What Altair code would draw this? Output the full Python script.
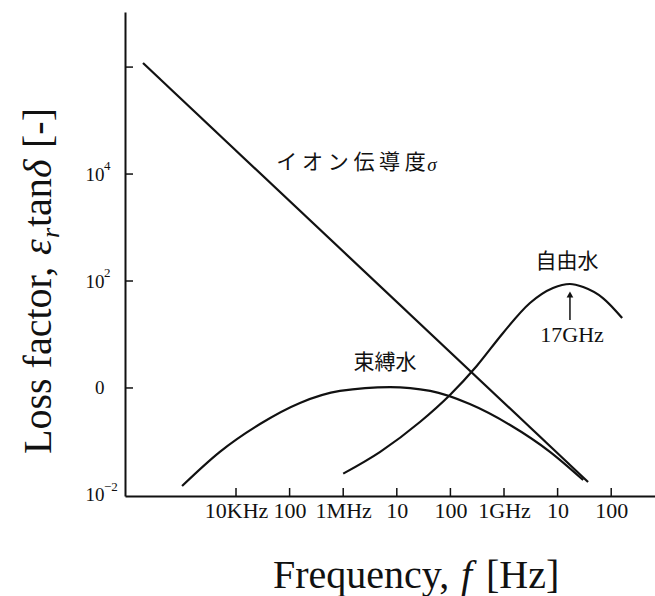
import json
import altair as alt
import pandas as pd

# Loss factor (eps_r * tan delta) versus frequency (Hz) for three loss mechanisms
ion_freq = [184, 3.7e10]
ion_loss = [1.19e6, 0.0175]

bound_freq = [985, 5.0e3, 2.8e4, 1.56e5, 8.7e5, 7.5e6, 4.2e7, 2.3e8, 1.3e9, 7.2e9, 3.0e10]
bound_loss = [0.0147, 0.064, 0.212, 0.525, 0.88, 1.04, 0.88, 0.50, 0.203, 0.064, 0.019]

free_freq = [1.0e6, 4.9e6, 2.7e7, 9.8e7, 3.1e8, 9.6e8, 3.05e9, 8.2e9, 1.7e10, 3.0e10, 7.0e10, 1.6e11]
free_loss = [0.025, 0.064, 0.231, 0.74, 2.58, 10.7, 38.8, 74, 88, 77, 48, 20.3]

# Axis ticks and their labels
x_tick_values = [1e4, 1e5, 1e6, 1e7, 1e8, 1e9, 1e10, 1e11]
x_tick_labels = ["10KHz", "100", "1MHz", "10", "100", "1GHz", "10", "100"]
y_tick_values = [1e6, 1e4, 1e2, 1]
y_label_values = [0.01, 1, 100, 1e4]
y_label_bases = ["10", "0", "10", "10"]
y_exp_values = [0.01, 100, 1e4]
y_exp_text = ["−2", "2", "4"]

# Curve annotations
label_text = ["イ オ ン 伝 導 度", "束縛水", "自由水", "17GHz"]
label_freq = [1.4e6, 6.0e6, 1.5e10, 1.86e10]
label_loss = [1.6e4, 2.93, 226, 9.8]
sigma_freq = [4.5e7]
sigma_loss = [1.48e4]
peak_freq = [1.7e10]
arrow_from = [18.6]
arrow_to = [56]

W, H = 530, 484
SERIF = "Liberation Serif"
CJK = "Noto Sans CJK JP"
INK = "#111111"

xscale = alt.Scale(type="log", domain=[10 ** 1.929, 10 ** 11.817], nice=False)
yscale = alt.Scale(type="log", domain=[10 ** -2.02, 10 ** 7.03], nice=False)

x_lab = json.dumps(x_tick_labels, ensure_ascii=False)
y_lab = json.dumps(y_label_bases, ensure_ascii=False)

# One axis definition per channel, reused by every layer so they merge cleanly
xaxis = alt.Axis(
    values=x_tick_values, labelExpr=f"{x_lab}[round(log(datum.value)/LN10)-4]",
    title=None, ticks=False, tickSize=0, grid=False, labelFont=SERIF,
    labelFontSize=22, labelColor=INK, labelPadding=4, labelOverlap=False,
    labelFlush=False, domainColor=INK, domainWidth=2)
yaxis = alt.Axis(
    values=y_label_values, labelExpr=f"{y_lab}[round(log(datum.value)/LN10/2)+1]",
    title=None, ticks=False, tickSize=0, grid=False, labelFont=SERIF,
    labelFontSize=19, labelColor=INK, labelPadding=21, labelOverlap=False,
    labelFlush=False, domainColor=INK, domainWidth=2)


def X(field):
    return alt.X(field, scale=xscale, axis=xaxis)


def Y(field):
    return alt.Y(field, scale=yscale, axis=yaxis)


curves = pd.concat([
    pd.DataFrame({"series": "ion", "f": ion_freq, "v": ion_loss}),
    pd.DataFrame({"series": "bound", "f": bound_freq, "v": bound_loss}),
    pd.DataFrame({"series": "free", "f": free_freq, "v": free_loss}),
], ignore_index=True)
curves["order"] = curves.groupby("series").cumcount()

lines = alt.Chart(curves).mark_line(
    color=INK, strokeWidth=2.2, interpolate="monotone"
).encode(x=X("f:Q"), y=Y("v:Q"), detail="series:N", order="order:Q")

# Inward-pointing tick marks
xticks = alt.Chart(pd.DataFrame({"f": x_tick_values})).mark_rule(
    color=INK, strokeWidth=1.5
).encode(x=X("f:Q"), y=alt.value(H), y2=alt.value(H - 8))

yticks = alt.Chart(pd.DataFrame({"v": y_tick_values})).mark_rule(
    color=INK, strokeWidth=1.5
).encode(y=Y("v:Q"), x=alt.value(0), x2=alt.value(8))

# Exponents of the y tick labels, set as superscripts
y_exps = alt.Chart(pd.DataFrame({"v": y_exp_values, "t": y_exp_text})).mark_text(
    font=SERIF, fontSize=13, color=INK, align="left", baseline="middle", dy=-8
).encode(y=Y("v:Q"), x=alt.value(-21), text="t:N")

labels_df = pd.DataFrame({"t": label_text, "f": label_freq, "v": label_loss})
cjk_labels = alt.Chart(labels_df.iloc[:3]).mark_text(
    font=CJK, fontSize=21, color=INK, baseline="middle", align="center"
).encode(x=X("f:Q"), y=Y("v:Q"), text="t:N")

ghz_label = alt.Chart(labels_df.iloc[3:]).mark_text(
    font=SERIF, fontSize=22, color=INK, baseline="middle", align="center"
).encode(x=X("f:Q"), y=Y("v:Q"), text="t:N")

sigma = alt.Chart(pd.DataFrame({"t": ["σ"], "f": sigma_freq, "v": sigma_loss})).mark_text(
    font=SERIF, fontSize=19, fontStyle="italic", color=INK, baseline="middle", align="center"
).encode(x=X("f:Q"), y=Y("v:Q"), text="t:N")

arrow_df = pd.DataFrame({"f": peak_freq, "v": arrow_from, "v2": arrow_to})
arrow_shaft = alt.Chart(arrow_df).mark_rule(color=INK, strokeWidth=1.5).encode(
    x=X("f:Q"), y=Y("v:Q"), y2="v2:Q")
arrow_head = alt.Chart(arrow_df).mark_point(
    shape="triangle-up", filled=True, color=INK, size=45, opacity=1
).encode(x=X("f:Q"), y=Y("v2:Q"))


# Axis titles (mixed upright / italic pieces)
def piece(text, x, y, size=40, style="normal", angle=0):
    return alt.Chart(pd.DataFrame({"t": [text]})).mark_text(
        font=SERIF, fontSize=size, fontStyle=style, color=INK, align="left",
        baseline="alphabetic", angle=angle
    ).encode(x=alt.value(x), y=alt.value(y), text="t:N")


x_title = [
    piece("Frequency,", 148, 576),
    piece("f", 336, 576, style="italic"),
    piece("[Hz]", 361, 576),
]
y_title = [
    piece("Loss factor,", -74, 442, angle=270),
    piece("ε", -74, 243, style="italic", angle=270),
    piece("r", -66, 226, size=26, style="italic", angle=270),
    piece("tan", -74, 215, angle=270),
    piece("δ", -74, 166, style="italic", angle=270),
    piece("[-]", -74, 136, angle=270),
]

chart = alt.layer(
    lines, xticks, yticks, y_exps, cjk_labels, ghz_label, sigma, arrow_shaft, arrow_head,
    *x_title, *y_title
).properties(
    width=W, height=H,
    padding={"left": 125, "top": 12, "right": 0, "bottom": 100},
    autosize=alt.AutoSizeParams(type="none"),
    background="white",
).configure_view(stroke=None)

chart.save("out.html", embed_options={"renderer": "svg", "actions": False})
